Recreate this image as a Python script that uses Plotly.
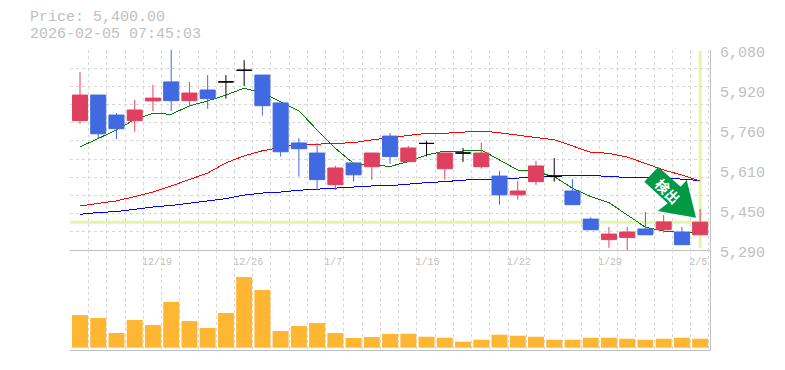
import plotly.graph_objects as go

dates = ["12/19", "12/26", "1/7", "1/15", "1/22", "1/29", "2/5"]
date_idx = [4, 9, 14, 19, 24, 29, 34]

opens = [5801,5902,5823,5801,5879,5954,5880,5922,5954,6000,5981,5871,5713,5673,5548,5634,5619,5740,5639,5711,5611,5673,5619,5582,5508,5560,5582,5523,5412,5331,5339,5373,5370,5361,5350]
closes = [5902,5749,5769,5843,5890,5880,5910,5888,5954,6000,5860,5678,5690,5568,5614,5587,5673,5659,5693,5711,5673,5673,5673,5508,5523,5622,5582,5469,5370,5353,5361,5350,5401,5311,5400]
highs = [5993,5902,5831,5883,5942,6080,5954,5981,5981,6040,5981,5871,5732,5713,5622,5634,5673,5752,5701,5721,5673,5693,5713,5602,5563,5642,5653,5570,5419,5381,5381,5440,5428,5381,5452]
lows = [5788,5732,5728,5757,5839,5839,5856,5848,5888,5938,5821,5659,5580,5527,5527,5560,5567,5630,5638,5659,5568,5638,5611,5469,5489,5547,5560,5469,5370,5299,5288,5350,5358,5311,5350]

ma_short = [5697,5731,5764,5806,5830,5826,5859,5879,5902,5929,5911,5876,5840,5764,5692,5632,5626,5620,5639,5665,5681,5681,5685,5646,5606,5599,5580,5534,5501,5477,5428,5380,5365,5358,5357]
ma_mid = [5464,5474,5484,5501,5519,5543,5567,5594,5634,5662,5682,5694,5708,5708,5711,5714,5725,5734,5744,5751,5751,5756,5760,5753,5743,5734,5725,5701,5676,5672,5657,5632,5606,5586,5563]
ma_long = [5431,5438,5442,5451,5460,5466,5474,5484,5493,5507,5515,5519,5526,5531,5535,5539,5543,5544,5551,5556,5560,5566,5569,5570,5574,5580,5582,5585,5585,5580,5577,5577,5574,5570,5564]

volumes = [32700,29700,14700,27700,22700,45700,26700,19700,34700,70700,57700,16700,21700,24700,14700,9700,10700,13700,14000,11000,10000,6000,8000,13000,12000,11000,8000,8000,10000,10000,9000,8000,9000,10000,9000]

price_ticks = [6080, 5922, 5764, 5606, 5448, 5290]
price_labels = ["6,080", "5,920", "5,760", "5,610", "5,450", "5,290"]
last_price = 5400
title_lines = ["Price: 5,400.00", "2026-02-05 07:45:03"]
signal_text = "検出"

MONO = "Liberation Mono"
GRAY = "#c0c0c0"
GRID = "#d8d8d8"
HILITE = "#e4f5a8"
UP, DOWN, DOJI = "#e04060", "#4169e1", "#000000"
xs = list(range(len(opens)))
XR = [-0.548, 34.54]
YR = [5290, 6080]
L, R, T, B, W, H = 70, 75, 50, 20, 785, 370
PW, PH = W - L - R, H - T - B
px = lambda x: (x - L) / PW
py = lambda y: (H - B - y) / PH

fig = go.Figure()
for vals, col in [(ma_long, "#0000ff"), (ma_mid, "#ff0000"), (ma_short, "#008000")]:
    fig.add_trace(go.Scatter(x=xs, y=vals, mode="lines", line=dict(color=col, width=1), xaxis="x", yaxis="y", hoverinfo="skip"))

norm = [i for i in xs if opens[i] != closes[i]]
doji = [i for i in xs if opens[i] == closes[i]]
pick = lambda a, idx: [a[i] for i in idx]
fig.add_trace(go.Candlestick(x=norm, open=pick(opens, norm), high=pick(highs, norm), low=pick(lows, norm), close=pick(closes, norm),
    increasing=dict(line=dict(color=UP, width=1), fillcolor=UP), decreasing=dict(line=dict(color=DOWN, width=1), fillcolor=DOWN),
    whiskerwidth=0, xaxis="x", yaxis="y3"))
fig.add_trace(go.Candlestick(x=doji, open=pick(opens, doji), high=pick(highs, doji), low=pick(lows, doji), close=pick(closes, doji),
    increasing=dict(line=dict(color=DOJI, width=1), fillcolor=DOJI), decreasing=dict(line=dict(color=DOJI, width=1), fillcolor=DOJI),
    whiskerwidth=0, xaxis="x", yaxis="y3"))
fig.add_trace(go.Bar(x=xs, y=volumes, width=16 / 18.24, marker=dict(color="#ffb733", line=dict(width=0)), xaxis="x2", yaxis="y2", hoverinfo="skip"))

DASH = "3px,3px"
grid_x = dict(showgrid=True, gridcolor=GRID, griddash=DASH, gridwidth=1, tick0=-0.53, dtick=1, tickmode="linear", ticks="")
shift = [(len(d) * 3 - 11) / 18.24 for d in dates]
fig.update_layout(
    width=W, height=H, autosize=False, showlegend=False, plot_bgcolor="white", paper_bgcolor="white",
    margin=dict(l=L, r=R, t=T, b=B, autoexpand=False), boxgap=0.175, boxgroupgap=0, boxmode="overlay", hovermode=False, barmode="overlay",
    xaxis=dict(domain=[0, 1], range=XR, anchor="y", rangeslider=dict(visible=False), showgrid=False, zeroline=False, automargin=False,
               tickmode="array", tickvals=[i + s for i, s in zip(date_idx, shift)], ticktext=dates,
               tickfont=dict(family=MONO, size=10, color=GRAY), tickangle=0, ticks="outside", ticklen=2, tickcolor="rgba(0,0,0,0)",
               showline=True, linecolor=GRAY, linewidth=1, minor=grid_x),
    xaxis2=dict(domain=[0, 1], range=XR, anchor="y2", showgrid=False, zeroline=False, showticklabels=False, ticks="", automargin=False,
                showline=True, linecolor=GRAY, linewidth=1, minor=grid_x),
    yaxis=dict(domain=[py(250), 1], range=YR, anchor="x", side="right", showgrid=False, zeroline=False, automargin=False,
               tickmode="array", tickvals=price_ticks, ticktext=price_labels, ticks="", ticklabelshift=2, ticklabelstandoff=6,
               tickfont=dict(family=MONO, size=15, color=GRAY), showline=True, linecolor=GRAY, linewidth=1,
               minor=dict(showgrid=True, gridcolor=GRID, griddash=DASH, gridwidth=1, tick0=5290, dtick=790 / 11, tickmode="linear", ticks="")),
    yaxis2=dict(domain=[0, py(250)], range=[-2300, 97700], anchor="x2", side="right", showgrid=False, zeroline=False, automargin=False,
                showticklabels=False, ticks="", showline=True, linecolor=GRAY, linewidth=1),
    yaxis3=dict(range=YR, overlaying="y", anchor="x", side="right", showgrid=False, zeroline=False, showticklabels=False, ticks=""),
)

fig.add_shape(type="line", xref="x domain", yref="y", x0=0, x1=1, y0=last_price, y1=last_price, layer="below", line=dict(color=HILITE, width=3))
fig.add_shape(type="line", xref="x", yref="y domain", x0=xs[-1], x1=xs[-1], y0=0.01, y1=0.995, layer="below", line=dict(color=HILITE, width=3))

arrow = [(658.3, 167), (680.7, 186.7), (686.7, 180), (696, 217.7), (657.7, 211), (667.7, 203.3), (644.3, 181.7)]
path = "M " + " L ".join(f"{px(a):.5f},{py(b):.5f}" for a, b in arrow) + " Z"
fig.add_shape(type="path", xref="paper", yref="paper", path=path, fillcolor="#009944", line=dict(width=0), layer="above")
fig.add_annotation(xref="paper", yref="paper", x=px(668), y=py(191), xanchor="center", yanchor="middle", text="<b>" + signal_text + "</b>", textangle=45, showarrow=False,
                   font=dict(family="Noto Sans CJK JP", size=14, color="white"))
for line, yy in zip(title_lines, [18, 35]):
    fig.add_annotation(xref="paper", yref="paper", x=px(29), y=py(yy), xanchor="left", yanchor="middle", text=line, showarrow=False,
                       borderpad=0, font=dict(family=MONO, size=15, color=GRAY))

crisp = "var s=document.createElement('style');s.textContent='.js-line{shape-rendering:crispEdges}';document.head.appendChild(s);"
fig.write_html("out.html", config=dict(displayModeBar=False), post_script="document.body.style.margin='0';" + crisp)
